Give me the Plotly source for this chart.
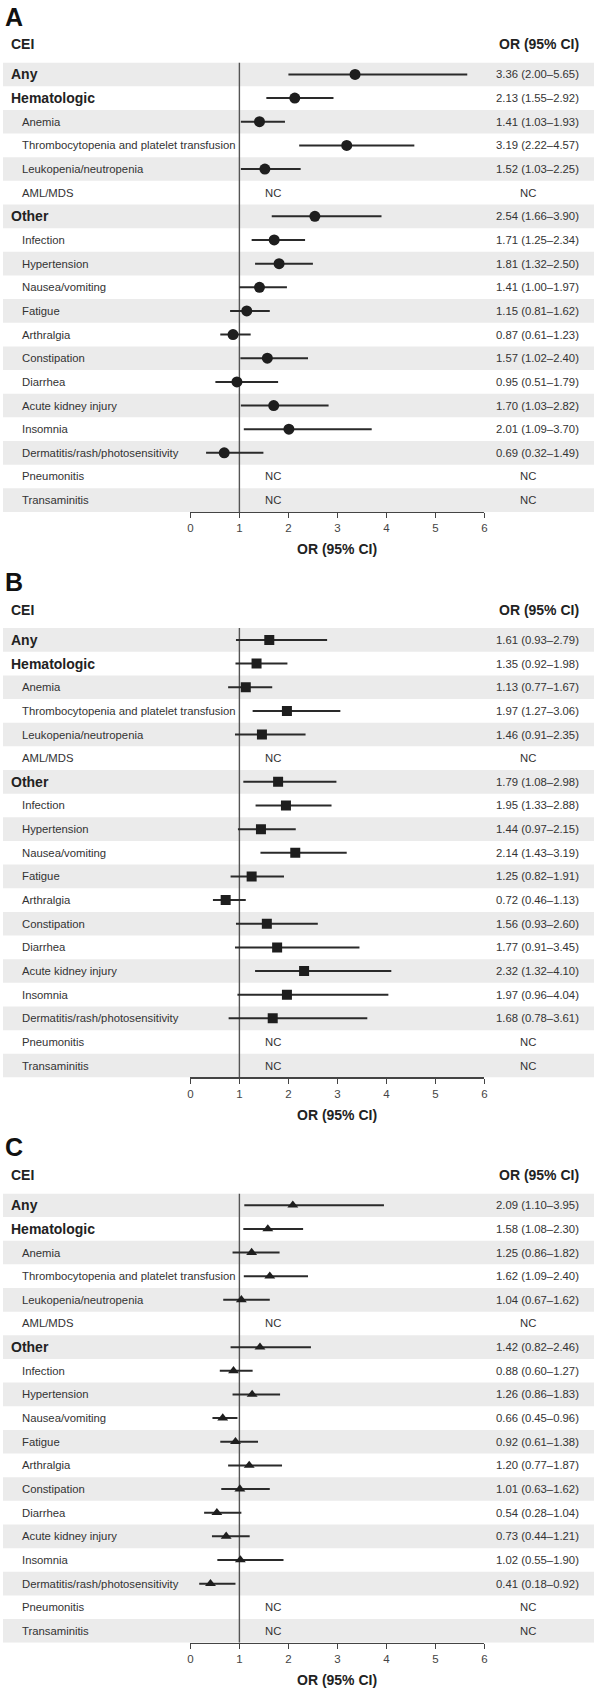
import plotly.graph_objects as go

# ---------------- data ----------------
categories = ["Any", "Hematologic", "Anemia", "Thrombocytopenia and platelet transfusion",
              "Leukopenia/neutropenia", "AML/MDS", "Other", "Infection", "Hypertension",
              "Nausea/vomiting", "Fatigue", "Arthralgia", "Constipation", "Diarrhea",
              "Acute kidney injury", "Insomnia", "Dermatitis/rash/photosensitivity",
              "Pneumonitis", "Transaminitis"]
group_rows = ["Any", "Hematologic", "Other"]
panel_letters = ["A", "B", "C"]
tick_values = [0, 1, 2, 3, 4, 5, 6]

or_A = [3.36, 2.13, 1.41, 3.19, 1.52, None, 2.54, 1.71, 1.81, 1.41, 1.15, 0.87, 1.57, 0.95, 1.70, 2.01, 0.69, None, None]
lo_A = [2.00, 1.55, 1.03, 2.22, 1.03, None, 1.66, 1.25, 1.32, 1.00, 0.81, 0.61, 1.02, 0.51, 1.03, 1.09, 0.32, None, None]
hi_A = [5.65, 2.92, 1.93, 4.57, 2.25, None, 3.90, 2.34, 2.50, 1.97, 1.62, 1.23, 2.40, 1.79, 2.82, 3.70, 1.49, None, None]

or_B = [1.61, 1.35, 1.13, 1.97, 1.46, None, 1.79, 1.95, 1.44, 2.14, 1.25, 0.72, 1.56, 1.77, 2.32, 1.97, 1.68, None, None]
lo_B = [0.93, 0.92, 0.77, 1.27, 0.91, None, 1.08, 1.33, 0.97, 1.43, 0.82, 0.46, 0.93, 0.91, 1.32, 0.96, 0.78, None, None]
hi_B = [2.79, 1.98, 1.67, 3.06, 2.35, None, 2.98, 2.88, 2.15, 3.19, 1.91, 1.13, 2.60, 3.45, 4.10, 4.04, 3.61, None, None]

or_C = [2.09, 1.58, 1.25, 1.62, 1.04, None, 1.42, 0.88, 1.26, 0.66, 0.92, 1.20, 1.01, 0.54, 0.73, 1.02, 0.41, None, None]
lo_C = [1.10, 1.08, 0.86, 1.09, 0.67, None, 0.82, 0.60, 0.86, 0.45, 0.61, 0.77, 0.63, 0.28, 0.44, 0.55, 0.18, None, None]
hi_C = [3.95, 2.30, 1.82, 2.40, 1.62, None, 2.46, 1.27, 1.83, 0.96, 1.38, 1.87, 1.62, 1.04, 1.21, 1.90, 0.92, None, None]

panels = [(or_A, lo_A, hi_A), (or_B, lo_B, hi_B), (or_C, lo_C, hi_C)]
symbols = ["circle", "square", "triangle-up"]
sizes = [11, 10, 9.5]

# ---------------- layout geometry (pixels) ----------------
W, H = 597, 1688
FONT = "Liberation Sans, Arial, Helvetica, sans-serif"
tops = [62.6, 628.1, 1193.4]
pitch = 23.65
n = len(categories)
x0_px, x6_px = 189.3, 486.3
band_color = "#ebebeb"
ink = "#1e1e1e"
line_ink = "#2a2a2a"


def py(px):
    return 1 - px / H


def pxx(px):
    return px / W


fig = go.Figure()
shapes = []
annotations = []

for p, (orv, lov, hiv) in enumerate(panels):
    sfx = "" if p == 0 else str(p + 1)
    xa, ya = "x" + sfx, "y" + sfx
    top = tops[p]
    bottom = top + n * pitch

    fig.update_layout(**{
        "xaxis" + sfx: dict(domain=[pxx(x0_px), pxx(x6_px)], range=[0, 6], anchor=ya,
                            tickvals=tick_values, ticks="outside", ticklen=5, tickwidth=1.3,
                            tickcolor="#444", showline=True, linecolor="#444", linewidth=1.3,
                            showgrid=False, zeroline=False, fixedrange=True,
                            tickfont=dict(family=FONT, size=11.5, color="#444")),
        "yaxis" + sfx: dict(domain=[py(bottom), py(top)], range=[n - 0.5, -0.5], anchor=xa,
                            visible=False, fixedrange=True),
    })

    # alternating bands
    for i in range(0, n, 2):
        shapes.append(dict(type="rect", xref="paper", yref=ya, x0=0, x1=1,
                           y0=i - 0.5, y1=i + 0.5, fillcolor=band_color,
                           line=dict(width=0), layer="below"))
    # reference line at OR = 1
    shapes.append(dict(type="line", xref=xa, yref=ya, x0=1, x1=1, y0=-0.5, y1=n - 0.5,
                       line=dict(color="#555", width=1.4), layer="below"))

    xs, ys, ep, em = [], [], [], []
    for i, (o, l, h) in enumerate(zip(orv, lov, hiv)):
        cat = categories[i]
        grp = cat in group_rows
        annotations.append(dict(
            xref="paper", yref=ya, x=pxx(8.0 if grp else 19.5), y=i, xanchor="left",
            yanchor="middle", showarrow=False, borderpad=0, borderwidth=0,
            text=("<b>%s</b>" % cat) if grp else cat,
            font=dict(family=FONT, size=14 if grp else 11.3, color="#222" if grp else "#333")))
        if o is None:
            annotations.append(dict(xref=xa, yref=ya, x=1.68, y=i, showarrow=False,
                                    text="NC", font=dict(family=FONT, size=11.3, color="#333")))
            annotations.append(dict(xref="paper", yref=ya, x=pxx(540.7), y=i, showarrow=False,
                                    text="NC", font=dict(family=FONT, size=11.3, color="#333")))
        else:
            xs.append(o)
            ys.append(i)
            ep.append(h - o)
            em.append(o - l)
            annotations.append(dict(xref="paper", yref=ya, x=pxx(582), y=i, xanchor="right",
                                    showarrow=False, borderpad=0, borderwidth=0,
                                    text="%.2f (%.2f\u2013%.2f)" % (o, l, h),
                                    font=dict(family=FONT, size=11.3, color="#333")))

    fig.add_trace(go.Scatter(
        x=xs, y=ys, xaxis=xa, yaxis=ya, mode="markers",
        marker=dict(symbol=symbols[p], size=sizes[p], color=ink, line=dict(width=0)),
        error_x=dict(type="data", symmetric=False, array=ep, arrayminus=em,
                     thickness=2, width=0, color=line_ink),
        hoverinfo="skip", showlegend=False))

    # headers
    annotations.append(dict(xref="paper", yref="paper", x=pxx(2.5), y=py(top - 46),
                            xanchor="left", yanchor="middle", showarrow=False,
                            borderpad=0, borderwidth=0,
                            text="<b>%s</b>" % panel_letters[p],
                            font=dict(family=FONT, size=25, color="#111")))
    annotations.append(dict(xref="paper", yref="paper", x=pxx(8.0), y=py(top - 18.5),
                            xanchor="left", yanchor="middle", showarrow=False,
                            borderpad=0, borderwidth=0, text="<b>CEI</b>",
                            font=dict(family=FONT, size=14, color="#222")))
    annotations.append(dict(xref="paper", yref="paper", x=pxx(582), y=py(top - 18.5),
                            xanchor="right", yanchor="middle", showarrow=False,
                            borderpad=0, borderwidth=0, text="<b>OR (95% CI)</b>",
                            font=dict(family=FONT, size=14, color="#222")))
    annotations.append(dict(xref=xa, yref="paper", x=3, y=py(bottom + 37.5),
                            xanchor="center", yanchor="middle", showarrow=False,
                            text="<b>OR (95% CI)</b>",
                            font=dict(family=FONT, size=14, color="#222")))

fig.update_layout(width=W, height=H, margin=dict(l=0, r=0, t=0, b=0),
                  paper_bgcolor="white", plot_bgcolor="rgba(0,0,0,0)",
                  showlegend=False, shapes=shapes, annotations=annotations)

fig.write_html("out.html", config={"displayModeBar": False, "staticPlot": True},
               post_script="document.body.style.margin='0';document.body.style.padding='0';"
                           "document.documentElement.style.overflow='hidden';")
